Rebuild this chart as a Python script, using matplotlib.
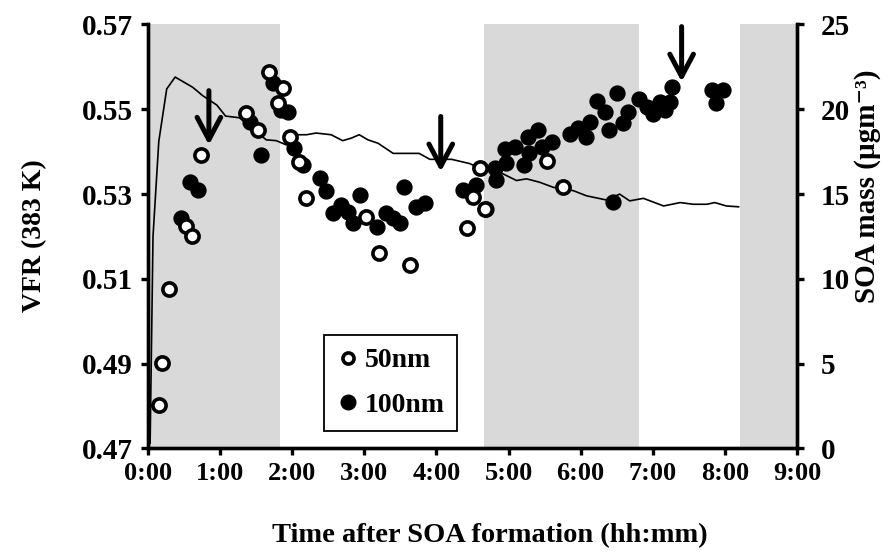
import matplotlib
matplotlib.use("Agg")
import matplotlib.pyplot as plt
from matplotlib.ticker import FixedLocator, FuncFormatter
from matplotlib.lines import Line2D

plt.rcParams['font.family'] = ['Liberation Serif', 'DejaVu Serif']
plt.rcParams['font.weight'] = 'bold'

# Shaded periods (hours)
shade_start = [0.0, 4.66, 8.21]
shade_end = [1.835, 6.81, 9.0]

# SOA mass line (hours, ug m-3)
soa_t = [0.03, 0.07, 0.15, 0.26, 0.377, 0.62, 0.76, 0.955, 1.076, 1.27, 1.41, 1.64, 1.78, 1.92,
         2.06, 2.2, 2.33, 2.54, 2.70, 2.82, 2.93, 3.05, 3.19, 3.40, 3.58, 3.76, 3.91, 4.21,
         4.46, 4.51, 4.92, 5.11, 5.25, 5.43, 5.62, 5.9, 6.08, 6.36, 6.54, 6.68, 6.87, 7.15,
         7.38, 7.56, 7.75, 7.86, 8.02, 8.19]
soa_m = [0.3, 12.5, 18.1, 21.2, 21.9, 21.3, 20.8, 20.25, 19.6, 19.5, 19.0, 18.2, 18.15, 17.9,
         18.5, 18.5, 18.6, 18.5, 18.15, 18.3, 18.5, 18.2, 18.0, 17.4, 17.4, 17.4, 17.05, 17.05,
         16.8, 16.7, 16.2, 15.8, 15.9, 15.7, 15.4, 15.2, 14.9, 14.65, 15.0, 14.6, 14.75, 14.3,
         14.5, 14.4, 14.4, 14.5, 14.3, 14.25]

# 50 nm (open circles)
t50 = [0.15, 0.197, 0.298, 0.53, 0.613, 0.738, 1.36, 1.52, 1.677, 1.80, 1.87, 1.97, 2.09,
       2.19, 3.03, 3.2, 3.64, 4.42, 4.51, 4.6, 4.68, 5.54, 5.75]
v50 = [0.4803, 0.4901, 0.5075, 0.5225, 0.5200, 0.5392, 0.5491, 0.5451, 0.5589, 0.5516, 0.5550,
       0.5435, 0.5376, 0.5290, 0.5247, 0.5160, 0.5133, 0.5219, 0.5294, 0.5361, 0.5266, 0.5379,
       0.5317]

# 100 nm (filled circles)
t100 = [0.46, 0.585, 0.69, 1.41, 1.57, 1.73, 1.85, 1.94, 2.03, 2.15, 2.39, 2.47, 2.565, 2.68,
        2.77, 2.84, 2.945, 3.17, 3.30, 3.40, 3.50, 3.55, 3.72, 3.84, 4.37, 4.55, 4.69, 4.81,
        4.83, 4.95, 4.97, 5.09, 5.21, 5.27, 5.29, 5.41, 5.46, 5.60, 5.85, 5.97, 6.08, 6.13,
        6.23, 6.34, 6.40, 6.45, 6.51, 6.59, 6.66, 6.81, 6.92, 7.01, 7.10, 7.17, 7.24, 7.26,
        7.82, 7.88, 7.98]
v100 = [0.5243, 0.5328, 0.5310, 0.5471, 0.5392, 0.5561, 0.5498, 0.5494, 0.5408, 0.5369, 0.5337,
        0.5308, 0.5255, 0.5274, 0.5258, 0.5231, 0.5298, 0.5222, 0.5255, 0.5243, 0.5231, 0.5317,
        0.5270, 0.5280, 0.5310, 0.5321, 0.5266, 0.5361, 0.5333, 0.5406, 0.5373, 0.5412, 0.5369,
        0.5435, 0.5396, 0.5451, 0.5412, 0.5424, 0.5441, 0.5455, 0.5435, 0.5471, 0.5520, 0.5494,
        0.5451, 0.5282, 0.5538, 0.5467, 0.5494, 0.5524, 0.5506, 0.5490, 0.5518, 0.5498, 0.5518,
        0.5552, 0.5546, 0.5516, 0.5546]

# Arrows (time, VFR top, VFR tip)
arrow_t = [0.845, 4.06, 7.40]
arrow_top = [0.5544, 0.5483, 0.5695]
arrow_tip = [0.5416, 0.5353, 0.5565]

xticks = list(range(0, 10))
vfr_ticks = [0.47, 0.49, 0.51, 0.53, 0.55, 0.57]
soa_ticks = [0, 5, 10, 15, 20, 25]

FS_X = 19
FS_Y = 21
FS_L = 20
fig = plt.figure(figsize=(8.94, 5.53), dpi=100)
ax = fig.add_axes([0.1655, 0.189, 0.726, 0.7667])
ax2 = ax.twinx()
ax.set_zorder(ax2.get_zorder() + 1)
ax.patch.set_visible(False)

for s, e in zip(shade_start, shade_end):
    ax2.axvspan(s, e, color='#d9d9d9', lw=0, zorder=0)
ax2.plot(soa_t, soa_m, color='black', lw=1.2, zorder=2)

ax.plot(t100, v100, 'o', ms=9.5, mfc='black', mec='black', mew=2.2, ls='none', zorder=3)
ax.plot(t50, v50, 'o', ms=9.5, mfc='white', mec='black', mew=2.6, ls='none', zorder=4)

for t, a, b in zip(arrow_t, arrow_top, arrow_tip):
    ax.annotate('', xy=(t, b), xytext=(t, a),
                arrowprops=dict(arrowstyle='->,head_width=0.85,head_length=1.6',
                                lw=3.6, color='black', shrinkA=0, shrinkB=0), zorder=6)

ax.set_xlim(0, 9)
ax.set_ylim(0.47, 0.57)
ax2.set_ylim(0, 25)
ax.xaxis.set_major_locator(FixedLocator(xticks))
ax.xaxis.set_major_formatter(FuncFormatter(lambda v, p: f"{int(round(v))}:00"))
ax.yaxis.set_major_locator(FixedLocator(vfr_ticks))
ax.yaxis.set_major_formatter(FuncFormatter(lambda v, p: f"{v:.2f}"))
ax2.yaxis.set_major_locator(FixedLocator(soa_ticks))

for a in (ax, ax2):
    for sp in a.spines.values():
        sp.set_linewidth(2.4)
    a.spines['top'].set_visible(False)
    a.tick_params(width=2.4, length=5, direction='out')
ax.tick_params(axis='x', pad=5, labelsize=FS_X)
ax.tick_params(axis='y', pad=6, labelsize=FS_Y)
ax2.tick_params(axis='y', pad=12, labelsize=FS_Y)

ax.set_xlabel('Time after SOA formation (hh:mm)', fontsize=FS_L + 0.5, fontweight='bold')
ax.xaxis.set_label_coords(0.527, -0.175)
ax.set_ylabel('VFR (383 K)', fontsize=FS_L, fontweight='bold')
ax.yaxis.set_label_coords(-0.155, 0.503)
ax2.set_ylabel('SOA mass (µgm⁻³)', fontsize=FS_L + 1, fontweight='bold', rotation=90)
ax2.yaxis.set_label_coords(1.088, 0.619)

handles = [Line2D([], [], marker='o', ls='none', ms=8, mfc='white', mec='black', mew=2.6),
           Line2D([], [], marker='o', ls='none', ms=10.5, mfc='black', mec='black')]
leg = ax.legend(handles, ['50nm', '100nm'], loc='center',
                bbox_to_anchor=(0.3737, 0.1545), borderaxespad=0,
                fancybox=False, edgecolor='black', framealpha=1, fontsize=FS_L,
                handletextpad=0.2, handlelength=0.8, labelspacing=0.7, borderpad=0.45)
leg.get_frame().set_linewidth(1.3)
leg.set_zorder(10)

fig.savefig('out.png', dpi=100)
